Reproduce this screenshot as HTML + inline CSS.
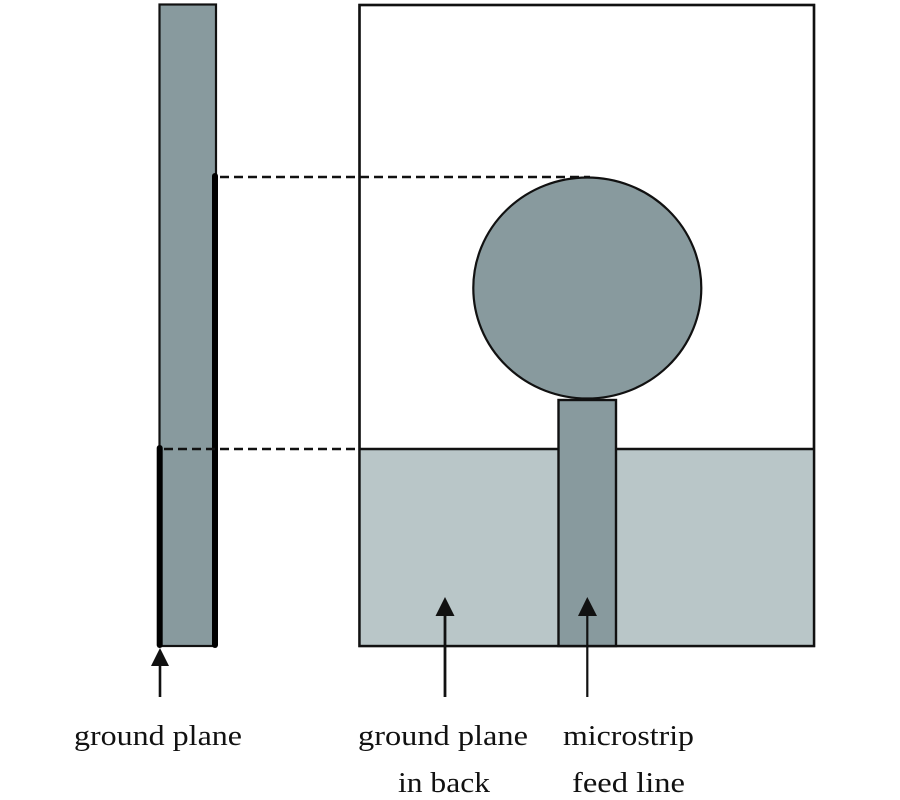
<!DOCTYPE html>
<html>
<head>
<meta charset="utf-8">
<style>
html,body{margin:0;padding:0;background:#fff;}
svg{display:block;}
text{font-family:"Liberation Serif",serif;font-size:29px;fill:#111;}
</style>
</head>
<body>
<svg width="900" height="800" viewBox="0 0 900 800" xmlns="http://www.w3.org/2000/svg">
  <!-- left strip (side view) -->
  <rect x="159.5" y="4.5" width="56.5" height="641.5" fill="#889a9e" stroke="#111" stroke-width="2.2"/>
  <line x1="215" y1="176" x2="215" y2="645" stroke="#000" stroke-width="6" stroke-linecap="round"/>
  <line x1="159.7" y1="448" x2="159.7" y2="645" stroke="#000" stroke-width="6" stroke-linecap="round"/>

  <!-- right box -->
  <rect x="359.5" y="5" width="454.5" height="641" fill="#fff" stroke="#111" stroke-width="2.4"/>
  <rect x="360.5" y="449" width="452.5" height="196" fill="#b9c6c8"/>
  <line x1="359.5" y1="449" x2="814" y2="449" stroke="#111" stroke-width="2.6"/>
  <rect x="359.5" y="5" width="454.5" height="641" fill="none" stroke="#111" stroke-width="2.4"/>

  <!-- feed line -->
  <rect x="558.5" y="400" width="57.5" height="246" fill="#889a9e" stroke="#111" stroke-width="2.4"/>
  <!-- patch -->
  <ellipse cx="587.3" cy="288" rx="114" ry="110.5" fill="#889a9e" stroke="#111" stroke-width="2.2"/>

  <!-- dashed lines -->
  <line x1="220" y1="177" x2="590" y2="177" stroke="#111" stroke-width="2.6" stroke-dasharray="9 5"/>
  <line x1="164" y1="449" x2="358" y2="449" stroke="#111" stroke-width="2.6" stroke-dasharray="9 5"/>

  <!-- arrows -->
  <line x1="160" y1="664" x2="160" y2="697" stroke="#111" stroke-width="2.6"/>
  <polygon points="160,648 151,666 169,666" fill="#111"/>

  <line x1="445" y1="614" x2="445" y2="697" stroke="#111" stroke-width="2.8"/>
  <polygon points="445,597 435.5,616 454.5,616" fill="#111"/>

  <line x1="587.3" y1="614" x2="587.3" y2="697" stroke="#111" stroke-width="2.2"/>
  <polygon points="587.3,597 578,616 597,616" fill="#111"/>

  <!-- labels -->
  <text x="74" y="745" textLength="168" lengthAdjust="spacingAndGlyphs">ground plane</text>
  <text x="358" y="745" textLength="170" lengthAdjust="spacingAndGlyphs">ground plane</text>
  <text x="398" y="792" textLength="92" lengthAdjust="spacingAndGlyphs">in back</text>
  <text x="563" y="745" textLength="131" lengthAdjust="spacingAndGlyphs">microstrip</text>
  <text x="572" y="792" textLength="113" lengthAdjust="spacingAndGlyphs">feed line</text>
</svg>
</body>
</html>
